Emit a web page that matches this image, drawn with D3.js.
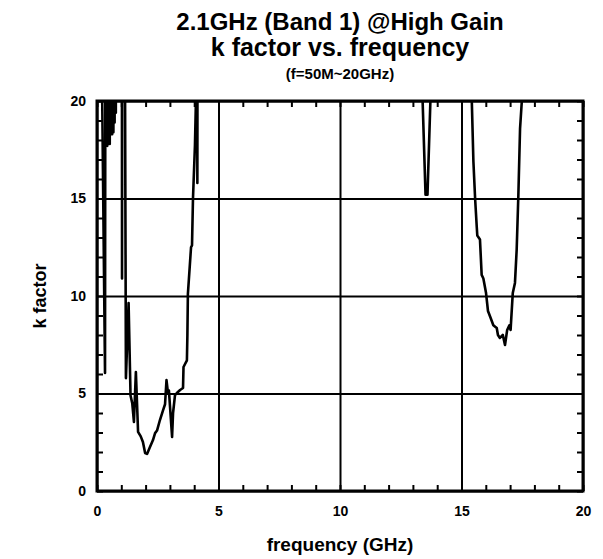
<!DOCTYPE html>
<html>
<head>
<meta charset="utf-8">
<script src="https://cdn.jsdelivr.net/npm/d3@7"></script>
<style>
  html, body { margin: 0; padding: 0; background: #fff; }
  svg { display: block; }
  text { font-family: "Liberation Sans", Arial, sans-serif; font-weight: bold; fill: #000; }
</style>
</head>
<body>
<svg id="chart" width="603" height="559"></svg>
<script>
// Stability factor k measured from 50 MHz to 20 GHz (values above 20 run off the plot)
const freqGHz = [
  0.05, 0.33,
  0.350, 0.375, 0.400, 0.425, 0.450, 0.475, 0.500, 0.525, 0.550, 0.575,
  0.600, 0.625, 0.650, 0.675, 0.700, 0.725, 0.750, 0.775, 0.800,
  1.01, 1.03, 1.06, 1.19, 1.30, 1.38, 1.45,
  1.52, 1.60, 1.69, 1.80, 1.89, 1.98, 2.06, 2.18, 2.30, 2.39, 2.47, 2.59, 2.72, 2.80,
  2.86, 2.92, 2.96, 3.09, 3.13, 3.21, 3.33, 3.42, 3.54, 3.56, 3.70, 3.72, 3.74, 3.87,
  3.91, 3.95, 4.03, 4.07, 4.10, 4.13, 4.16, 8.0, 13.30, 13.52, 13.60, 13.82, 15.36,
  15.49, 15.56, 15.63, 15.65, 15.76, 15.83, 15.90, 16.01, 16.09, 16.20, 16.31, 16.45,
  16.50, 16.58, 16.70, 16.79, 16.88, 16.97, 17.02, 17.11, 17.20, 17.27, 17.34, 17.41,
  17.48, 17.60, 20.0
];
const kFactor = [
  40, 6.05,
  30, 17.8, 30, 17.7, 30, 17.9, 30, 17.8, 30, 18.3,
  30, 18.3, 30, 18.4, 30, 18.9, 30, 19.4, 30,
  60, 10.9, 60, 5.79, 9.64, 4.9, 4.5,
  3.54, 6.10, 3.03, 2.8, 2.51, 1.95, 1.90, 2.26, 2.6, 2.97, 3.10, 3.64, 4.15, 4.45,
  5.69, 5.03, 5.15, 2.77, 4.0, 4.92, 5.08, 5.18, 5.28, 6.36, 6.7, 8.0, 10.1, 12.5,
  12.6, 15.0, 17.7, 19.95, 40, 15.8, 50, 80, 24, 15.2, 15.2, 24, 23,
  16.9, 15.0, 13.5, 13.1, 12.9, 11.08, 10.9, 10.15, 9.23, 8.87, 8.5, 8.36,
  8.0, 7.85, 8.0, 7.49, 8.26, 8.5, 8.26, 10.15, 10.67, 12.36, 15.18, 18.6,
  19.95, 30, 60
];
const xTickValues = [0, 5, 10, 15, 20];
const yTickValues = [0, 5, 10, 15, 20];
const xMinorValues = d3.range(0, 21, 1);
const yMinorValues = d3.range(0, 21, 1);
const titleLines = ["2.1GHz (Band 1) @High Gain", "k factor vs. frequency"];
const subTitle = "(f=50M~20GHz)";
const xTitle = "frequency (GHz)";
const yTitle = "k factor";

const svg = d3.select("#chart");
const margin = { left: 97, top: 101, right: 20, bottom: 68 };
const W = 603 - margin.left - margin.right;   // 486
const H = 559 - margin.top - margin.bottom;   // 390

const x = d3.scaleLinear().domain([0, 20]).range([0, W]);
const y = d3.scaleLinear().domain([0, 20]).range([H, 0]);

const g = svg.append("g").attr("transform", `translate(${margin.left},${margin.top})`);

g.append("clipPath").attr("id", "plot-clip")
  .append("rect").attr("x", 0).attr("y", 0).attr("width", W).attr("height", H);

// Major grid lines
const gridX = g.append("g").attr("transform", `translate(0,${H})`)
  .call(d3.axisBottom(x).tickValues(xTickValues).tickSize(-H).tickFormat(""));
const gridY = g.append("g")
  .call(d3.axisLeft(y).tickValues(yTickValues).tickSize(-W).tickFormat(""));
[gridX, gridY].forEach(a => {
  a.select(".domain").remove();
  a.selectAll("line").attr("stroke", "#000").attr("stroke-width", 2);
});

// Curve
const line = d3.line().x((d, i) => x(freqGHz[i])).y(d => y(d));
g.append("path")
  .datum(kFactor)
  .attr("clip-path", "url(#plot-clip)")
  .attr("fill", "none")
  .attr("stroke", "#000")
  .attr("stroke-width", 2.6)
  .attr("stroke-linejoin", "round")
  .attr("d", line);

// Inward minor ticks on all four sides
function minor(axis, transform) {
  const a = g.append("g").attr("transform", transform).call(axis);
  a.select(".domain").remove();
  a.selectAll("line").attr("stroke", "#000").attr("stroke-width", 2);
  a.selectAll("text").remove();
}
minor(d3.axisBottom(x).tickValues(xMinorValues).tickSize(-6).tickFormat(""), `translate(0,${H})`);
minor(d3.axisTop(x).tickValues(xMinorValues).tickSize(-6).tickFormat(""), "translate(0,0)");
minor(d3.axisLeft(y).tickValues(yMinorValues).tickSize(-6).tickFormat(""), "translate(0,0)");
minor(d3.axisRight(y).tickValues(yMinorValues).tickSize(-6).tickFormat(""), `translate(${W},0)`);

// Frame
g.append("rect").attr("x", 0).attr("y", 0).attr("width", W).attr("height", H)
  .attr("fill", "none").attr("stroke", "#000").attr("stroke-width", 3);

// Tick labels
const xLab = g.append("g").attr("transform", `translate(0,${H})`)
  .call(d3.axisBottom(x).tickValues(xTickValues).tickSize(0).tickPadding(15).tickFormat(d3.format("d")));
const yLab = g.append("g")
  .call(d3.axisLeft(y).tickValues(yTickValues).tickSize(0).tickPadding(11).tickFormat(d3.format("d")));
[xLab, yLab].forEach(a => {
  a.select(".domain").remove();
  a.selectAll("text").style("font-family", "'Liberation Sans', Arial, sans-serif")
    .style("font-weight", "bold").style("font-size", "14px").attr("fill", "#000");
});

// Titles
const cx = margin.left + W / 2;
svg.append("text").attr("x", cx).attr("y", 30).attr("text-anchor", "middle")
  .style("font-size", "24px").text(titleLines[0]);
svg.append("text").attr("x", cx).attr("y", 56).attr("text-anchor", "middle")
  .style("font-size", "25px").text(titleLines[1]);
svg.append("text").attr("x", cx).attr("y", 79).attr("text-anchor", "middle")
  .style("font-size", "15px").text(subTitle);

svg.append("text").attr("x", cx).attr("y", 551).attr("text-anchor", "middle")
  .style("font-size", "19px").text(xTitle);
svg.append("text")
  .attr("transform", `translate(46,${margin.top + H / 2}) rotate(-90)`)
  .attr("text-anchor", "middle")
  .style("font-size", "18px").text(yTitle);
</script>
</body>
</html>
